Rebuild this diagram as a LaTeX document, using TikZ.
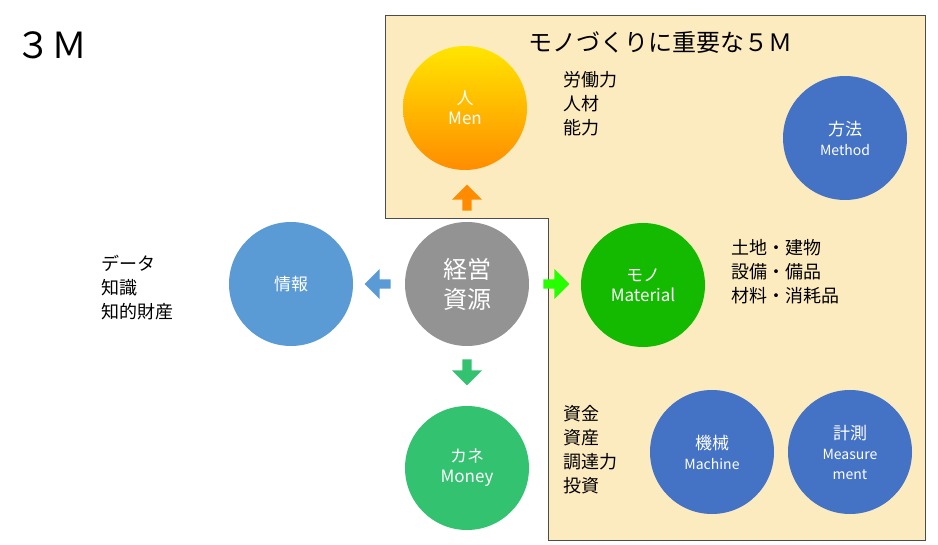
\documentclass[tikz,border=0pt]{standalone}
\usepackage{fontspec}
\setmainfont{Noto Sans CJK JP}
\usetikzlibrary{positioning,shapes.arrows}
\definecolor{paper}{HTML}{FDEBC0}
\definecolor{deep}{HTML}{4472C4}
\definecolor{sky}{HTML}{5B9BD5}
\newcommand\latin{\fontsize{14}{17}\selectfont}
\begin{document}
\begin{tikzpicture}[x=1pt,y=-1pt]
  \tikzstyle{res} = [circle, minimum size=124pt, inner sep=0pt, align=center, text=white, font=\fontsize{17}{20}\selectfont]
  \tikzstyle{arr} = [single arrow, minimum height=26pt, minimum width=30pt, single arrow head extend=5pt, inner sep=2pt]
  \tikzstyle{list} = [align=left, anchor=north west, font=\fontsize{18}{24}\selectfont]
  \useasboundingbox (0,0) rectangle (938,545);
  \fill[white] (0,0) rectangle (938,545);
  \filldraw[fill=paper, draw=black!70] (385,15) -- (925,15) -- (925,540) -- (548,540) -- (548,218) -- (385,218) -- cycle;

  \node [font=\fontsize{36}{40}\selectfont] (three) at (52,45) {３Ｍ};
  \node [font=\fontsize{24}{28}\selectfont] (title) at (660,42) {モノづくりに重要な５Ｍ};

  \node [res, fill=gray!85, font=\fontsize{24}{30}\selectfont] (core) at (467,284) {経営\\ 資源};
  \node [res, top color=yellow!80!orange, bottom color=orange!90!yellow] (men) at (465,108) {人\\ Men};
  \node [res, fill=sky] (info) at (291,284) {情報};
  \node [res, fill=green!70!black!90!lime] (mono) at (643,285) {モノ\\ Material};
  \node [res, fill=teal!60!green!80] (money) at (467,468) {カネ\\ Money};
  \node [res, fill=deep] (method) at (845,138) {方法\\ \latin Method};
  \node [res, fill=deep] (machine) at (712,452) {機械\\ \latin Machine};
  \node [res, fill=deep] (measure) at (850,452) {計測\\ \latin Measure\\ \latin ment};

  \node [arr, fill=orange!90!yellow, shape border rotate=90] (up) at (467,200) {};
  \node [arr, fill=sky, shape border rotate=180] (left) at (380,284) {};
  \node [arr, fill=green!80!lime, shape border rotate=0] (right) at (554,284) {};
  \node [arr, fill=teal!60!green!80, shape border rotate=270] (down) at (467,370) {};

  \node [list] (menlist) at (560,68) {労働力\\ 人材\\ 能力};
  \node [list] (infolist) at (98,252) {データ\\ 知識\\ 知的財産};
  \node [list] (monolist) at (728,236) {土地・建物\\ 設備・備品\\ 材料・消耗品};
  \node [list] (moneylist) at (560,402) {資金\\ 資産\\ 調達力\\ 投資};
\end{tikzpicture}
\end{document}
